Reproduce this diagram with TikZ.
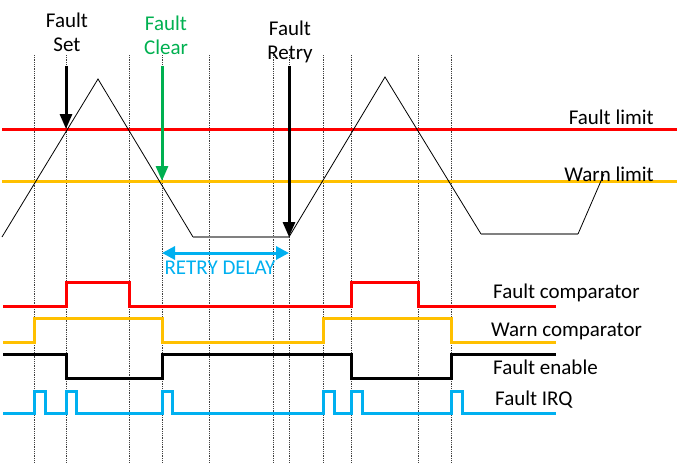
\documentclass[tikz,border=0pt]{standalone}
\usepackage{fontspec}
\setmainfont{Carlito}
\usetikzlibrary{arrows.meta}
\definecolor{faultred}{HTML}{FF0000}
\definecolor{warngold}{HTML}{FFC000}
\definecolor{cleargreen}{HTML}{00B050}
\definecolor{irqblue}{HTML}{00B0F0}
\begin{document}
\begin{tikzpicture}[x=1pt,y=-1pt,
    sig/.style={line width=3pt},
    marker/.style={densely dotted, line width=0.8pt, black!75},
    evarrow/.style={line width=3pt, -{Triangle[width=12pt,length=15pt]}},
    lbl/.style={font=\fontsize{21}{24}\selectfont, inner sep=0pt, align=center}]

        \useasboundingbox (0,0) rectangle (677,463);

        \foreach \t in {34,66,129,162,209,273,289,323,351,418,451}
          \draw[marker] (\t,55) -- (\t,463);

        \draw[faultred, line width=3pt] (2,129) -- (677,129);
        \draw[warngold, line width=3pt] (2,181) -- (677,181);

        \draw[line width=0.8pt] (2,237) -- (98,79) -- (193,237);
        \draw[gray, line width=1.5pt] (193,237) -- (289,237);
        \draw[line width=0.8pt] (289,237) -- (385,77) -- (481,234);
        \draw[gray, line width=1.5pt] (481,234) -- (578,234);
        \draw[line width=0.8pt] (578,234) -- (604,174);

        \draw[sig, faultred] (3,306) -| (66,282) -| (129,306) -| (351,282) -| (418,306) -- (556,306);
        \draw[sig, warngold] (3,342) -| (34,318) -| (162,342) -| (323,318) -| (451,342) -- (556,342);
        \draw[sig, black] (3,354) -| (66,378) -| (162,354) -| (351,378) -| (451,354) -- (556,354);
        \draw[sig, irqblue] (3,413) -| (34,391) -| (45,413) -| (66,391) -| (76,413)
          -| (162,391) -| (172,413) -| (323,391) -| (334,413) -| (351,391) -| (362,413)
          -| (451,391) -| (462,413) -- (556,413);

        \begin{scope}[every node/.style={lbl}]
          \node (setlbl)   at (67,32)  {Fault\\Set};
          \node[text=cleargreen] (clearlbl) at (166,35) {Fault\\Clear};
          \node (retrylbl) at (290,42) {Fault\\Retry};
          \node[anchor=east] (fltlim) at (654,117) {Fault limit};
          \node[anchor=east] (wrnlim) at (654,174) {Warn limit};
          \node[text=irqblue] (dlylbl) at (220,268) {RETRY DELAY};
          \node[anchor=west] (fcomp) at (493,293) {Fault comparator};
          \node[anchor=west] (wcomp) at (491,331) {Warn comparator};
          \node[anchor=west] (fen)   at (493,367) {Fault enable};
          \node[anchor=west] (firq)  at (495,400) {Fault IRQ};
        \end{scope}

        \coordinate (settop)   at (66,66);
        \coordinate (setpt)    at (66,129);
        \coordinate (cleartop) at (162,66);
        \coordinate (clearpt)  at (162,181);
        \coordinate (retrytop) at (289,66);
        \coordinate (retrypt)  at (289,237);
        \coordinate (dly1)     at (162,253);
        \coordinate (dly2)     at (289,253);

        \path (settop)   edge[evarrow, black] (setpt);
        \path (cleartop) edge[evarrow, cleargreen] (clearpt);
        \path (retrytop) edge[evarrow, black] (retrypt);
        \path (dly1) edge[line width=3pt, irqblue,
          {Triangle[width=13pt,length=13pt]}-{Triangle[width=13pt,length=13pt]}] (dly2);

      \end{tikzpicture}
\end{document}
